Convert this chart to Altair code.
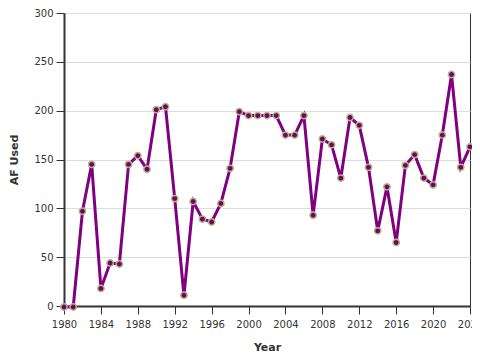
import altair as alt
import pandas as pd

years = list(range(1980, 2025))
af_used = [-1, -1, 97, 145, 18, 44, 43, 145, 154, 140, 201, 204, 110, 11, 107,
           89, 86, 105, 141, 199, 195, 195, 195, 195, 175, 175, 195, 93, 171, 165,
           131, 193, 185, 142, 77, 122, 65, 144, 155, 131, 124, 175, 237, 142, 163]
x_ticks = list(range(1980, 2025, 4))
y_ticks = [0, 50, 100, 150, 200, 250, 300]

df = pd.DataFrame({"Year": years, "AF Used": af_used})

x_enc = alt.X("Year:Q",
              scale=alt.Scale(domain=[1980, 2024], nice=False, zero=False),
              axis=alt.Axis(values=x_ticks, format="d", grid=False, title="Year",
                            labelOverlap=False, labelFlush=False,
                            tickSize=8, labelPadding=5, titlePadding=12))
y_enc = alt.Y("AF Used:Q",
              scale=alt.Scale(domain=[0, 300], nice=False),
              axis=alt.Axis(values=y_ticks, title="AF Used", labelOverlap=False,
                            tickSize=8, labelPadding=3, titlePadding=14))

line = alt.Chart(df).mark_line(color="#800080", strokeWidth=3).encode(x=x_enc, y=y_enc)
pts = alt.Chart(df).mark_point(filled=True, fill="#5e1060", stroke="#c2ad86",
                               strokeWidth=1.5, size=40, opacity=1).encode(x=x_enc, y=y_enc)

chart = (line + pts).properties(
    width=406, height=293,
    autosize=alt.AutoSizeParams(type="none"),
    padding={"top": 5, "left": 56, "right": 2, "bottom": 50},
).configure_view(stroke="#333", strokeWidth=1).configure_axis(
    labelFont="DejaVu Sans", titleFont="DejaVu Sans",
    labelFontSize=10, titleFontSize=11, titleFontWeight="bold",
    labelColor="#333", titleColor="#333",
    domainColor="#333", domainWidth=2, tickColor="#333",
    gridColor="#dddddd",
)

chart.save("out.html", embed_options={"renderer": "svg", "actions": False})
